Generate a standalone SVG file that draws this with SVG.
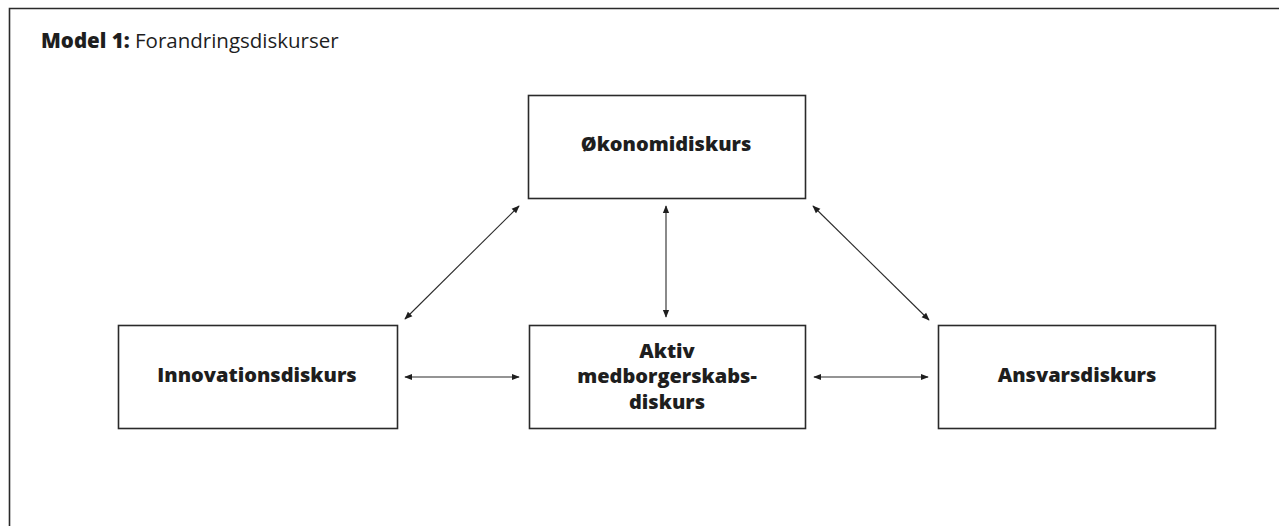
<svg xmlns="http://www.w3.org/2000/svg" width="1279" height="526" viewBox="0 0 1279 526">
<style>
.box{fill:#fff;stroke:#2a2a2a;stroke-width:1.6}
.lbl{font-family:"Open Sans","Liberation Sans",sans-serif;font-weight:800;font-size:20px;fill:#1e1e1e;text-anchor:middle}
.con{stroke:#2a2a2a;stroke-width:1.1;fill:none;marker-start:url(#ah);marker-end:url(#ah)}
</style>
<defs>
<marker id="ah" viewBox="0 0 10 10" refX="9" refY="5" markerWidth="8" markerHeight="8" markerUnits="userSpaceOnUse" orient="auto-start-reverse">
<path d="M0,1 L10,5 L0,9 Z" fill="#1e1e1e"/>
</marker>
</defs>
<rect width="1279" height="526" fill="#fff"/>
<path d="M9.5,526 V8.5 H1279" fill="none" stroke="#2a2a2a" stroke-width="1.6"/>
<text x="41" y="48" font-family="'Open Sans','Liberation Sans',sans-serif" font-size="20.5" fill="#1e1e1e"><tspan font-weight="800">Model 1:</tspan> Forandringsdiskurser</text>
<g id="connectors">
<line class="con" x1="405" y1="319" x2="519" y2="206"/>
<line class="con" x1="666" y1="206" x2="666" y2="317"/>
<line class="con" x1="813" y1="206" x2="929" y2="320"/>
<line class="con" x1="405" y1="377" x2="519" y2="377"/>
<line class="con" x1="814" y1="377" x2="928" y2="377"/>
</g>
<g id="okonomi">
<rect class="box" x="528.5" y="95.5" width="277" height="103"/>
<text class="lbl" x="666" y="151">Økonomidiskurs</text>
</g>
<g id="innovation">
<rect class="box" x="118.5" y="325.5" width="279" height="103"/>
<text class="lbl" x="257" y="382">Innovationsdiskurs</text>
</g>
<g id="aktiv">
<rect class="box" x="529.5" y="325.5" width="276" height="103"/>
<text class="lbl" x="667" y="358">Aktiv</text>
<text class="lbl" x="667" y="383">medborgerskabs-</text>
<text class="lbl" x="667" y="409">diskurs</text>
</g>
<g id="ansvar">
<rect class="box" x="938.5" y="325.5" width="277" height="103"/>
<text class="lbl" x="1077" y="382">Ansvarsdiskurs</text>
</g>
</svg>
